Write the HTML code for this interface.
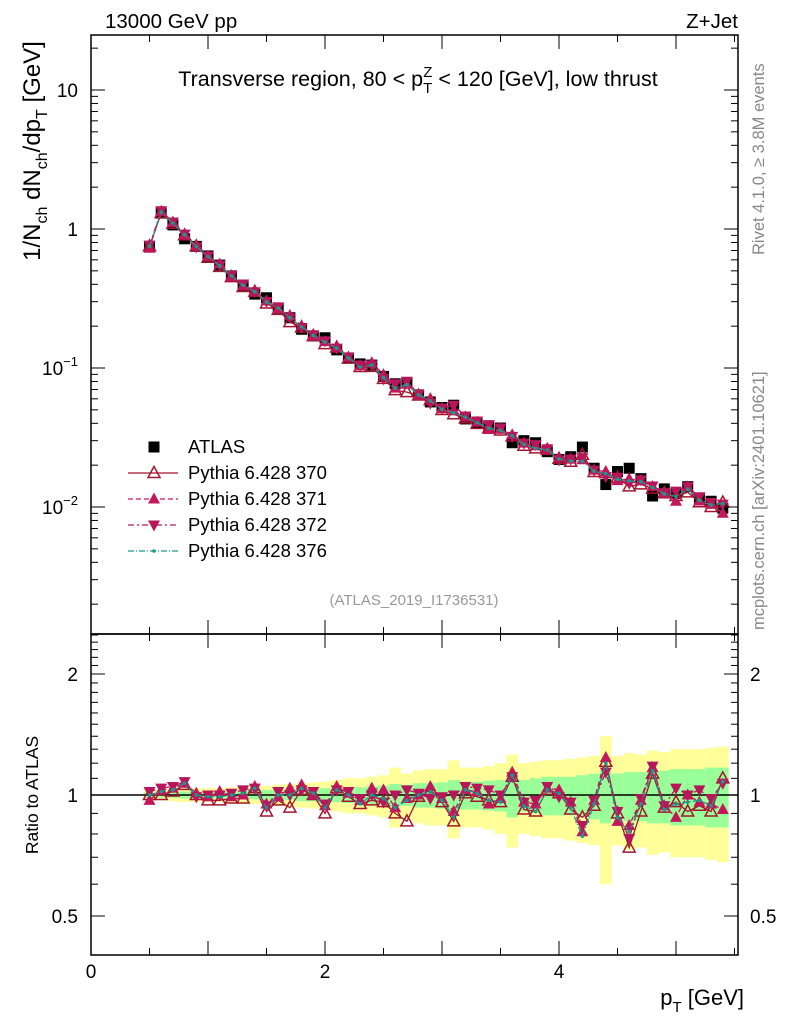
<!DOCTYPE html>
<html><head><meta charset="utf-8">
<style>
html,body{margin:0;padding:0;background:#fff;}
svg{display:block;font-family:"Liberation Sans",Arial,sans-serif;}
</style></head>
<body>
<svg id="chart" width="786" height="1024" viewBox="0 0 786 1024" xmlns="http://www.w3.org/2000/svg">
<rect x="0" y="0" width="786" height="1024" fill="#fff"/>
<g id="bands"></g>
<g id="grid"></g>
<g id="series"></g>
<g id="axes"></g>
<text x="105" y="28" font-size="20.5">13000 GeV pp</text>
<text x="738" y="28" font-size="20.5" text-anchor="end">Z+Jet</text>
<text x="418" y="86" font-size="21.5" text-anchor="middle">Transverse region, 80 &lt; p<tspan font-size="15" dy="7">T</tspan><tspan font-size="15" dy="-16" dx="-9">Z</tspan><tspan dy="9"> &lt; 120 [GeV], low thrust</tspan></text>
<text x="414" y="605" font-size="15" fill="#999" text-anchor="middle">(ATLAS_2019_I1736531)</text>
<text transform="translate(764,255) rotate(-90)" font-size="16.5" fill="#888">Rivet 4.1.0, ≥ 3.8M events</text>
<text transform="translate(764,630) rotate(-90)" font-size="16.5" fill="#888">mcplots.cern.ch [arXiv:2401.10621]</text>
<text transform="translate(40,151) rotate(-90)" font-size="24" text-anchor="middle">1/N<tspan font-size="16" dy="7">ch</tspan><tspan dy="-7"> dN</tspan><tspan font-size="16" dy="7">ch</tspan><tspan dy="-7">/dp</tspan><tspan font-size="16" dy="7">T</tspan><tspan dy="-7"> [GeV]</tspan></text>
<text transform="translate(38,795) rotate(-90)" font-size="17.5" text-anchor="middle">Ratio to ATLAS</text>
<text x="744" y="1005" font-size="22" text-anchor="end">p<tspan font-size="15" dy="7">T</tspan><tspan dy="-7"> [GeV]</tspan></text>
<g id="legend"></g>
</svg>
<script>
const xVals = [0.5,0.6,0.7,0.8,0.9,1.0,1.1,1.2,1.3,1.4,1.5,1.6,1.7,1.8,1.9,2.0,2.1,2.2,2.3,2.4,2.5,2.6,2.7,2.8,2.9,3.0,3.1,3.2,3.3,3.4,3.5,3.6,3.7,3.8,3.9,4.0,4.1,4.2,4.3,4.4,4.5,4.6,4.7,4.8,4.9,5.0,5.1,5.2,5.3,5.4];
const atlas = [0.75,1.3,1.07,0.85,0.75,0.64,0.55,0.46,0.39,0.34,0.32,0.27,0.23,0.19,0.17,0.165,0.135,0.118,0.107,0.105,0.087,0.077,0.078,0.064,0.057,0.052,0.054,0.043,0.040,0.038,0.037,0.029,0.030,0.029,0.025,0.022,0.023,0.027,0.019,0.0145,0.018,0.019,0.016,0.012,0.0135,0.0125,0.014,0.0115,0.011,0.0098];
const r370 = [1.0,1.0,1.02,1.06,1.0,0.97,0.97,0.98,0.98,1.04,0.91,0.97,0.93,1.03,1.0,0.9,1.04,0.99,0.95,0.97,0.96,0.9,0.86,0.99,1.03,0.96,0.86,1.01,0.99,0.97,0.96,1.11,0.92,0.91,1.03,1.01,0.92,0.88,0.94,1.21,0.90,0.74,0.91,1.13,0.93,0.96,0.91,0.94,0.91,1.10];
const r371 = [0.97,1.03,1.04,1.07,1.01,0.99,1.02,0.99,1.0,1.05,0.95,0.99,1.04,1.06,1.0,0.94,1.05,1.01,0.97,1.04,1.03,0.93,0.98,1.0,1.05,0.98,0.91,1.03,1.02,0.95,0.98,1.14,0.96,0.95,1.04,1.03,0.96,0.81,0.97,1.24,0.86,0.84,0.97,1.17,0.94,0.88,1.0,0.96,0.95,0.92];
const r372 = [1.02,1.04,1.05,1.08,0.99,1.0,1.0,1.01,1.03,1.04,0.94,1.02,1.0,1.03,1.02,0.95,1.03,1.02,0.98,1.0,0.96,1.0,1.03,1.01,0.98,0.99,1.0,1.05,1.04,1.03,1.0,1.11,0.96,0.97,1.05,0.99,0.96,0.84,0.97,1.14,0.91,0.78,0.98,1.18,0.94,1.04,1.0,1.03,0.98,1.07];
const r376 = [1.0,1.02,1.03,1.07,1.0,0.99,0.99,1.0,1.01,1.04,0.93,1.0,1.0,1.04,1.01,0.93,1.03,1.0,0.95,1.0,0.98,0.93,0.97,1.0,1.02,0.97,0.88,1.03,1.01,0.97,0.96,1.12,0.94,0.91,1.03,1.01,0.93,0.79,0.95,1.2,0.88,0.81,0.95,1.15,0.92,0.95,0.96,0.97,0.94,1.08];
const bandOuter = [0.03,0.03,0.035,0.04,0.04,0.04,0.04,0.045,0.05,0.05,0.055,0.06,0.065,0.07,0.075,0.08,0.09,0.1,0.1,0.11,0.12,0.17,0.13,0.15,0.16,0.16,0.22,0.17,0.17,0.18,0.2,0.26,0.2,0.21,0.22,0.22,0.23,0.24,0.25,0.4,0.25,0.27,0.26,0.29,0.28,0.3,0.3,0.3,0.31,0.32];
const bandInner = [0.015,0.015,0.015,0.02,0.02,0.02,0.02,0.02,0.025,0.025,0.03,0.03,0.03,0.035,0.035,0.04,0.04,0.045,0.045,0.05,0.055,0.065,0.06,0.07,0.07,0.075,0.09,0.08,0.08,0.085,0.09,0.12,0.09,0.1,0.11,0.11,0.11,0.12,0.13,0.15,0.13,0.14,0.14,0.15,0.15,0.16,0.16,0.16,0.17,0.17];
const yTickLabels = ["10^-2","10^-1","1","10"];

const NS="http://www.w3.org/2000/svg";
const X0=91,X1=738, MT=35,MB=634, RT=634,RB=955;
function xs(v){return X0+v*117;}
function ys(v){return 507-(Math.log10(v)+2)*139;}
function yr(v){return 795-Math.log10(v)*402;}
function mk(tag,attrs,parent){const e=document.createElementNS(NS,tag);for(const k in attrs)e.setAttribute(k,attrs[k]);parent.appendChild(e);return e;}
const gB=document.getElementById('bands'),gS=document.getElementById('series'),gA=document.getElementById('axes'),gL=document.getElementById('legend');

xVals.forEach((x,i)=>{
  const l=xs(x-0.05),w=117*0.1;
  const o=mk('rect',{x:l,y:yr(1+bandOuter[i]),width:w,height:yr(1-bandOuter[i])-yr(1+bandOuter[i]),fill:'#ffff99'},gB);
  
  
  const n=mk('rect',{x:l,y:yr(1+bandInner[i]),width:w,height:yr(1-bandInner[i])-yr(1+bandInner[i]),fill:'#99ff99'},gB);
  
  
});
mk('line',{x1:X0,x2:X1,y1:yr(1),y2:yr(1),stroke:'#000','stroke-width':1.5},gB);

function marker(type,cx,cy,color,parent){
  if(type==='sq') return mk('rect',{x:cx-5.5,y:cy-5.5,width:11,height:11,fill:'#000'},parent);
  if(type==='tri') return mk('path',{d:`M${cx},${cy-6.5}L${cx+6},${cy+4.5}L${cx-6},${cy+4.5}Z`,fill:'#fff','fill-opacity':0,stroke:color,'stroke-width':1.5},parent);
  if(type==='ftri') return mk('path',{d:`M${cx},${cy-6.5}L${cx+6},${cy+4.5}L${cx-6},${cy+4.5}Z`,fill:color},parent);
  if(type==='dtri') return mk('path',{d:`M${cx},${cy+6.5}L${cx+6},${cy-4.5}L${cx-6},${cy-4.5}Z`,fill:color},parent);
  return mk('circle',{cx:cx,cy:cy,r:1.8,fill:color},parent);
}
const series=[
  {name:'pythia-370',r:r370,type:'tri',color:'#a3162e',dash:'',label:'Pythia 6.428 370'},
  {name:'pythia-371',r:r371,type:'ftri',color:'#c2185b',dash:'5,3',label:'Pythia 6.428 371'},
  {name:'pythia-372',r:r372,type:'dtri',color:'#b8165a',dash:'6,3,2,3',label:'Pythia 6.428 372'},
  {name:'pythia-376',r:r376,type:'dot',color:'#1a9a8c',dash:'6,2,1,2',label:'Pythia 6.428 376'}
];
const ga=mk('g',{},gS);


xVals.forEach((x,i)=>{const m=marker('sq',xs(x),ys(atlas[i]),'#000',ga);
  
  });
series.forEach(s=>{
  const g=mk('g',{},gS);
  
  
  const pm=xVals.map((x,i)=>xs(x)+','+ys(atlas[i]*s.r[i])).join(' ');
  mk('polyline',{points:pm,fill:'none',stroke:s.color,'stroke-width':1.3,'stroke-dasharray':s.dash},g);
  const pr=xVals.map((x,i)=>xs(x)+','+yr(s.r[i])).join(' ');
  mk('polyline',{points:pr,fill:'none',stroke:s.color,'stroke-width':1.3,'stroke-dasharray':s.dash},g);
  xVals.forEach((x,i)=>{
    const a=marker(s.type,xs(x),ys(atlas[i]*s.r[i]),s.color,g);
    
    
    const b=marker(s.type,xs(x),yr(s.r[i]),s.color,g);
    
    
  });
});

mk('rect',{x:X0,y:MT,width:X1-X0,height:MB-MT,fill:'none',stroke:'#000','stroke-width':1.5},gA);
mk('rect',{x:X0,y:RT,width:X1-X0,height:RB-RT,fill:'none',stroke:'#000','stroke-width':1.5},gA);
for(let e=-3;e<=1;e++){for(let m=1;m<=9;m++){const v=m*Math.pow(10,e);const y=ys(v);if(y<MT||y>MB)continue;
  const L=m===1?14:7;
  mk('line',{x1:X0,x2:X0+L,y1:y,y2:y,stroke:'#000','stroke-width':1},gA);
  mk('line',{x1:X1,x2:X1-L,y1:y,y2:y,stroke:'#000','stroke-width':1},gA);}}
yTickLabels.forEach((t,i)=>{const y=ys(Math.pow(10,i-2));
  const tx=mk('text',{x:78,y:y+7,'font-size':19,'text-anchor':'end'},gA);
  
  
  const p=t.split('^');
  if(p.length>1){tx.textContent=p[0];const ts=mk('tspan',{'font-size':13,dy:-9},tx);ts.textContent=p[1].replace('-','−');}
  else tx.textContent=t;});
for(let k=4;k<=25;k++){const v=k/10;const y=yr(v);if(y<RT||y>RB)continue;
  const L=(k===5||k===10||k===20)?14:7;
  mk('line',{x1:X0,x2:X0+L,y1:y,y2:y,stroke:'#000','stroke-width':1},gA);
  mk('line',{x1:X1,x2:X1-L,y1:y,y2:y,stroke:'#000','stroke-width':1},gA);}
[[2,'2'],[1,'1'],[0.5,'0.5']].forEach(([v,t])=>{
  const a=mk('text',{x:78,y:yr(v)+7,'font-size':19,'text-anchor':'end'},gA);a.textContent=t;
  
  
  const b=mk('text',{x:750,y:yr(v)+7,'font-size':19},gA);b.textContent=t;
  
  });
for(let k=0;k<=11;k++){const v=k*0.5;const x=xs(v);if(x>X1+1)continue;const L=(k%2===0)?14:7;
  [MB,RB].forEach(y=>mk('line',{x1:x,x2:x,y1:y,y2:y-L,stroke:'#000','stroke-width':1},gA));
  mk('line',{x1:x,x2:x,y1:MT,y2:MT+L,stroke:'#000','stroke-width':1},gA);
  mk('line',{x1:x,x2:x,y1:RT,y2:RT+L,stroke:'#000','stroke-width':1},gA);}
[0,2,4].forEach(v=>{const t=mk('text',{x:xs(v),y:978,'font-size':19,'text-anchor':'middle'},gA);t.textContent=String(v);
  
  });

const legY=[447,473,499,525,551];
marker('sq',154,legY[0],'#000',gL);
const l0=mk('text',{x:188,y:legY[0]+6,'font-size':18.5},gL);l0.textContent='ATLAS';


series.forEach((s,i)=>{const y=legY[i+1];
  mk('line',{x1:128,x2:178,y1:y,y2:y,stroke:s.color,'stroke-width':1.3,'stroke-dasharray':s.dash},gL);
  marker(s.type,154,y,s.color,gL);
  const t=mk('text',{x:188,y:y+6,'font-size':18.5},gL);t.textContent=s.label;
  
  });
</script>
</body></html>
